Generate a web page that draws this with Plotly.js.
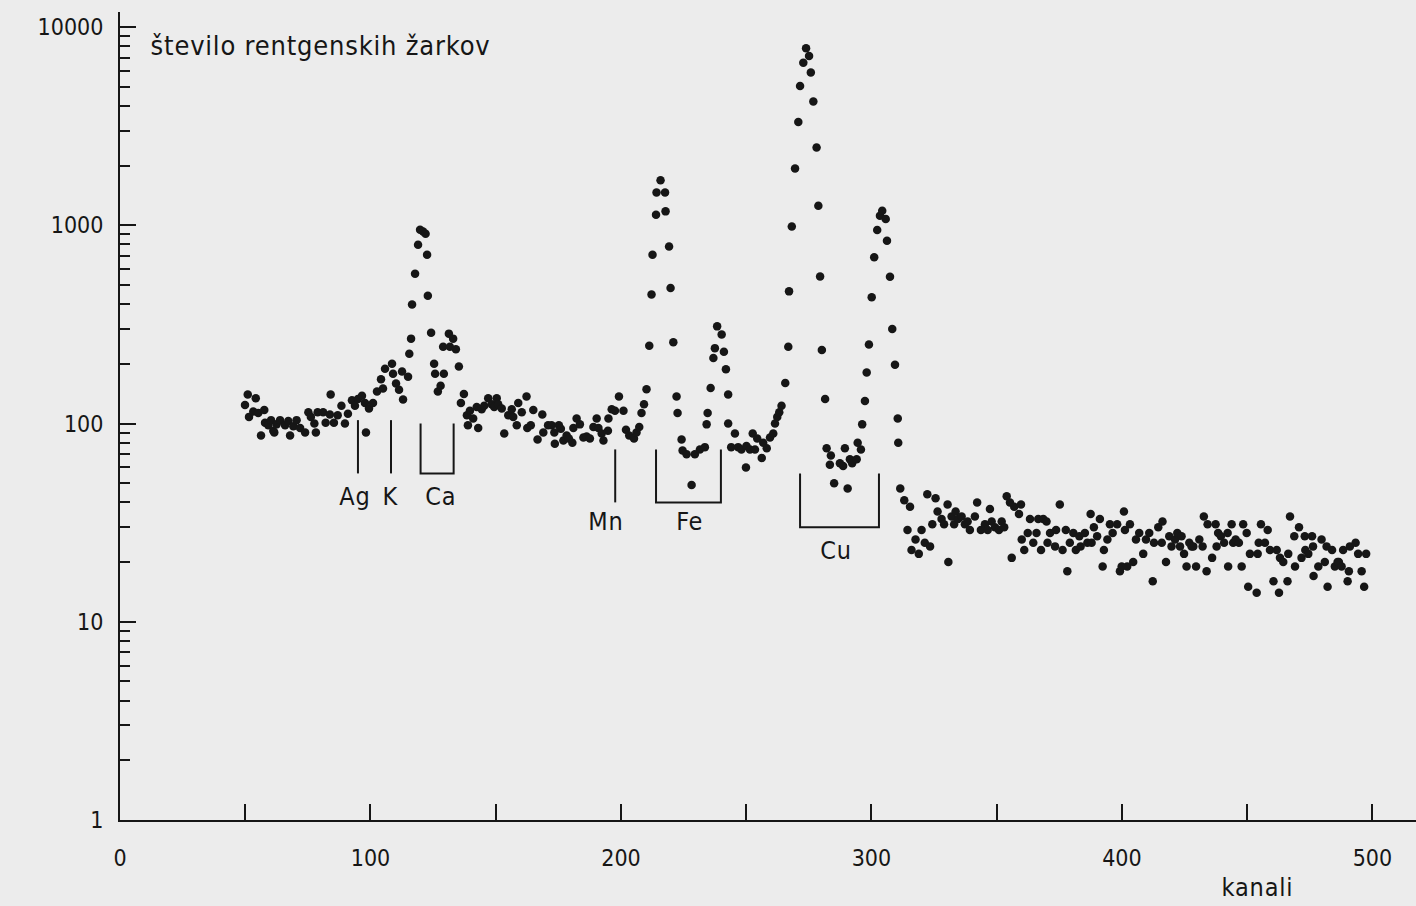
<!DOCTYPE html>
<html>
<head>
<meta charset="utf-8">
<script src="https://cdn.plot.ly/plotly-3.0.1.min.js"></script>
<style>
html,body{margin:0;padding:0;background:#ececec;}
#chart{width:1416px;height:906px;}
#chart .annotation-text{letter-spacing:0.8px;}
</style>
</head>
<body>
<div id="chart"></div>
<script>
// channel numbers (kanali) and x-ray counts (število rentgenskih žarkov)
const kanal = [
49.9,51,51.5,53.2,54.2,55.2,56.3,57.6,57.9,59.2,60.3,61.2,61.6,62.5,63.9,65.9,67.2,67.9,69.2,70.5,
71.9,73.9,75.2,76.2,77.6,78.2,78.9,81.1,82.1,83.8,84.1,85.4,86.9,
88.4,89.8,91,92.6,93.8,95,96.6,97.8,98.2,99.4,101,102.6,104.2,105,105.8,108.6,109,110.2,111.4,112.6,113,
115,115.5,116.2,116.6,117.8,119,119.8,121,122,122.6,122.9,124.2,125.4,125.8,126.9,128,129,129.3,131.3,131.7,
133,134.1,135.3,136.1,137.3,138.5,138.9,
139.7,141,142.4,143,144.4,145.4,147,148.4,149.4,150.4,151,152.4,153.4,155,156.4,157,158.4,159,160.4,162.3,
162.6,164,165,166.7,168.6,169,170.9,172.3,173.4,173.6,175.2,176,177,178.3,179.2,180.6,181,182.3,183.6,185,
186.3,187.6,189,190.3,191,192.3,193,194.8,195,196.3,197.6,199.2,201,
202,203.3,205.2,206.2,207.3,208.2,209.2,210.2,211.3,212.2,212.6,214,214.2,215.8,217.6,217.8,219.2,219.8,220.9,222.2,
222.6,224.2,224.6,226.2,228.2,229.5,231.5,233.5,234.2,234.6,235.8,236.9,237.5,238.4,240.2,241.1,241.9,242.8,242.8,
244,245.5,246.8,248.1,249.9,250.1,251.5,252.6,253.5,254.4,256.2,256.8,258.2,259.5,260.8,261.5,262.4,263.2,264.1,265.6,
266.8,267.1,268.2,269.5,270.8,271.5,272.8,273.9,275.1,275.8,276.8,278.1,278.8,279.5,280.2,281.5,282.1,283.4,283.8,285.1,
287.4,288.7,289.4,290.5,291.4,292.3,294.1,294.5,295.8,296.3,297.4,298.1,299,300.1,301.1,302.3,303.4,304.3,305.7,306.2,
307.4,308.3,309.4,310.5,310.7,311.5,
313.1,314.4,315.4,316,317.6,318.9,320,321.3,322.3,323.4,324.3,325.6,326.4,328,329,330.4,330.7,332,333,333.6,
334.6,336,337.3,338.4,339.3,341.3,342.2,343.7,345.3,346.4,347.3,348,349.3,350.9,352,353,354,355.3,356,357,
358.9,359.7,360,361,362.4,363.3,364.6,365.9,366.6,367.7,368.6,369.9,370.3,
371.3,373.3,373.7,375.2,376.3,377.6,378.2,379.2,380.6,381.6,383,383.5,385.2,386.2,387.5,387.9,388.8,390.1,391.2,392.3,
392.8,394.2,395.2,396.3,398.1,399.2,399.9,400.8,401.2,402.1,403.2,404.5,405.6,406.9,408.5,409.6,410.9,412.3,412.8,414.5,
415.9,416.2,417.6,418.9,419.8,421.2,422.1,423.2,423.8,424.8,425.8,426.9,427.8,428.5,429.6,430.9,432.2,432.7,433.8,
434.2,436,437.4,437.8,438.4,439.5,440.8,442.2,442.4,443.8,444.4,445.4,446.7,447.8,448.4,449.8,450.4,451.1,453.8,454.2,
454.6,455.5,457.1,458.2,459.1,460.5,461.8,462.7,463.1,464.4,466.1,466.4,467.1,468.8,469.1,470.7,471.7,473,473.2,474.4,
475.9,476.3,476.5,478.4,479.7,481,481.7,482.1,483.9,485,486.1,486.6,487.7,488.3,490.1,490.6,491,493.3,494.3,495.7,
496.7,497.5
];
const stevilo = [
124,140,108,115,134,113,87,117,101,98,104,92,90,99,104,98,103,87,97,104,
95,90,114,108,100,90,114,114,101,111,140,101,110,
123,100,112,131,123,133,138,127,90,119,127,145,167,150,189,200,178,159,148,183,132,
172,225,268,398,570,798,949,930,906,710,441,287,200,178,145,155,244,178,284,244,
268,237,194,127,141,110,98,
116,106,121,95,118,123,134,125,121,134,125,119,89,110,118,108,98,127,114,137,
95,98,117,83,111,90,98,98,90,79,98,94,82,87,84,80,95,106,99,85,
86,84,96,106,95,89,82,92,106,118,116,137,116,
93,87,84,90,96,113,125,149,247,447,710,1130,1462,1688,1462,1175,781,482,257,137,
113,83,73,70,49,70,74,76,99,113,151,214,240,309,281,230,188,140,100,
76,89,76,74,60,77,74,89,74,84,67,80,75,85,89,100,108,114,123,160,
244,464,986,1932,3320,5044,6610,7815,7150,5890,4205,2466,1253,552,235,133,75,62,69,50,
63,61,75,47,66,63,66,80,74,99,130,181,250,433,689,946,1117,1183,1074,835,
550,300,198,106,80,47,
41,29,38,23,26,22,29,25,44,24,31,42,36,33,31,39,20,34,31,36,
33,34,31,32,29,34,40,29,31,29,37,32,30,29,32,30,43,40,21,38,
35,39,26,23,28,33,25,28,33,23,33,32,25,
28,24,29,39,23,29,18,25,28,23,27,24,28,25,35,25,30,27,33,19,
23,26,31,28,31,18,19,36,29,19,31,20,26,28,22,26,28,16,25,30,
25,32,20,27,24,26,28,24,27,22,19,25,24,24,19,26,24,34,18,
31,21,31,24,28,27,25,28,19,31,25,26,25,19,31,28,15,22,14,22,
25,31,25,29,23,16,23,14,21,20,16,22,34,27,19,30,21,27,23,22,
27,24,17,19,26,20,24,15,23,19,20,20,19,23,16,18,24,25,22,18,
15,22
];

// element markers: label, channel span, bracket top/bottom counts, label position
const elementi   = ['Ag', 'K', 'Ca', 'Mn', 'Fe', 'Cu'];
const elemOd     = [95, 108.2, 120, 197.7, 214, 271.5];
const elemDo     = [95, 108.2, 133.2, 197.7, 239.9, 303];
const elemVrh    = [104, 104, 100, 74, 74, 56];
const elemDno    = [56, 56, 56, 40, 40, 30];
const napisX     = [93.8, 108.2, 128.1, 194, 227.5, 285.8];
const napisY     = [43, 43, 43, 32, 32, 23];

const xTicks = [0,50,100,150,200,250,300,350,400,450,500];
const xTickText = ['0','','100','','200','','300','','400','','500'];
const yTicks = [1,10,100,1000,10000];
const yTickText = ['1','10','100','1000','10000'];
const yMinor = [];
[1,10,100,1000].forEach(d => { for (let k=2;k<=9;k++) yMinor.push(d*k); });

const ink = '#161616';
const fam = 'DejaVu Sans Condensed, DejaVu Sans, sans-serif';
const tickFont = {family:fam, size:23, color:ink};
const labelFont = {family:fam, size:27, color:ink};

const traces = [{
  type:'scatter', mode:'markers', x:kanal, y:stevilo,
  marker:{size:8.5, color:ink}, hoverinfo:'x+y', showlegend:false
}];

elementi.forEach((el,i) => {
  let xs, ys;
  if (elemOd[i] === elemDo[i]) { xs=[elemOd[i],elemOd[i]]; ys=[elemVrh[i],elemDno[i]]; }
  else { xs=[elemOd[i],elemOd[i],elemDo[i],elemDo[i]]; ys=[elemVrh[i],elemDno[i],elemDno[i],elemVrh[i]]; }
  traces.push({type:'scatter', mode:'lines', x:xs, y:ys, line:{color:ink, width:2}, hoverinfo:'skip', showlegend:false});
});

const annotations = elementi.map((el,i) => ({
  x:napisX[i], y:Math.log10(napisY[i]), xref:'x', yref:'y', text:el, showarrow:false,
  font:{family:fam, size:25, color:ink},
  xanchor:'center', yanchor:'middle'
}));
annotations.push({
  xref:'paper', yref:'paper', x:(320-120)/1296, y:(906-86-45)/808, xanchor:'center', yanchor:'middle',
  text:'število rentgenskih žarkov', showarrow:false, font:labelFont
});
annotations.push({
  xref:'paper', yref:'paper', x:(1257-120)/1296, y:-(887-820)/808, xanchor:'center', yanchor:'middle',
  text:'kanali', showarrow:false, font:{family:fam, size:25, color:ink}
});

const layout = {
  width:1416, height:906,
  margin:{l:120, r:0, t:12, b:86, pad:0},
  paper_bgcolor:'#ececec', plot_bgcolor:'#ececec',
  showlegend:false,
  xaxis:{
    range:[0,517.4], showgrid:false, zeroline:false,
    showline:true, linecolor:ink, linewidth:2,
    ticks:'inside', ticklen:16, tickwidth:2, tickcolor:ink,
    tickmode:'array', tickvals:xTicks, ticktext:xTickText,
    tickfont:tickFont, ticklabelstandoff:16
  },
  yaxis:{
    type:'log', range:[0,4.0757], showgrid:false, zeroline:false,
    showline:true, linecolor:ink, linewidth:2,
    ticks:'inside', ticklen:16, tickwidth:2, tickcolor:ink,
    tickmode:'array', tickvals:yTicks, ticktext:yTickText,
    tickfont:tickFont, ticklabelstandoff:10,
    minor:{tickmode:'array', tickvals:yMinor, ticks:'inside', ticklen:10, tickwidth:2, tickcolor:ink, showgrid:false}
  },
  annotations:annotations
};

Plotly.newPlot('chart', traces, layout, {displayModeBar:false, staticPlot:true});
</script>
</body>
</html>
